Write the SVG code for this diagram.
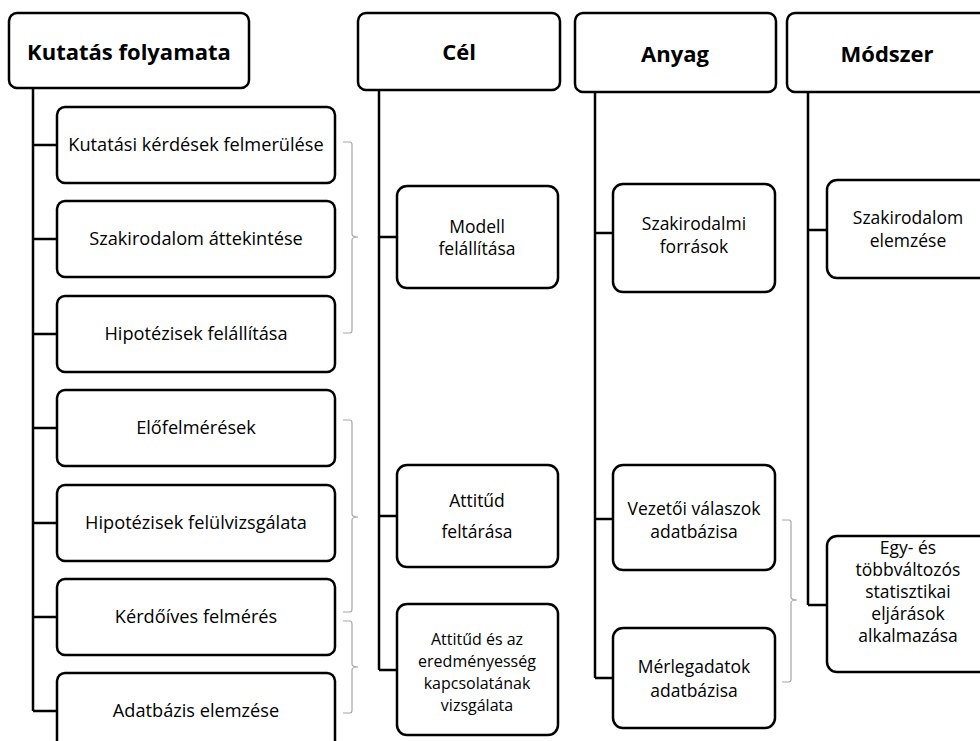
<svg xmlns="http://www.w3.org/2000/svg" width="980" height="741" viewBox="0 0 980 741">
<style>
.box{fill:#fff;stroke:#000;stroke-width:2.5}
.hd{font-family:"Open Sans",Lato,sans-serif;font-weight:bold;font-size:22px;text-anchor:middle;fill:#000}
.t{font-family:"Open Sans",Lato,sans-serif;font-size:17.5px;text-anchor:middle;fill:#000}
.ts{font-family:"Open Sans",Lato,sans-serif;font-size:16px;text-anchor:middle;fill:#000}
.tl{font-family:"Open Sans",Lato,sans-serif;font-size:18.2px;text-anchor:middle;fill:#000}
.ln{fill:none;stroke:#000;stroke-width:2.5}
.br{fill:none;stroke:#a6a6a6;stroke-width:1.2}
</style>
<rect width="980" height="741" fill="#fff"/>
<g id="connectors">
<path class="ln" d="M33,88V711M33,145H57M33,239H57M33,334H57M33,428H57M33,523H57M33,617H57M33,711H57"/>
<path class="ln" d="M379,90V670M379,237H397M379,516H397M379,670H397"/>
<path class="ln" d="M595,92V678M595,233H613M595,519H613M595,678H613"/>
<path class="ln" d="M808,92V605M808,230H827M808,605H827"/>
<path class="br" d="M343,142H350Q352,142 352,145V234Q352,237 358,237Q352,237 352,240V330Q352,333 350,333H343"/>
<path class="br" d="M343,420H350Q352,420 352,423V514Q352,517 358,517Q352,517 352,520V609Q352,612 350,612H343"/>
<path class="br" d="M343,621H350Q352,621 352,624V664Q352,667 358,667Q352,667 352,670V710Q352,713 350,713H343"/>
<path class="br" d="M782,520H789Q791,520 791,523V597Q791,600 797,600Q791,600 791,603V679Q791,682 789,682H782"/>
</g>
<g id="h-kutatas"><rect class="box" x="9" y="13" width="240" height="75" rx="8"/><text class="hd" x="129" y="60">Kutatás folyamata</text></g>
<g id="h-cel"><rect class="box" x="358" y="13" width="202" height="77" rx="8"/><text class="hd" x="459" y="60">Cél</text></g>
<g id="h-anyag"><rect class="box" x="575" y="13" width="201" height="79" rx="8"/><text class="hd" x="675" y="62">Anyag</text></g>
<g id="h-modszer"><rect class="box" x="787" y="13" width="205" height="79" rx="8"/><text class="hd" x="887" y="62">Módszer</text></g>

<g id="k1"><rect class="box" x="57" y="107" width="278" height="76" rx="8"/><text class="tl" x="196" y="151">Kutatási kérdések felmerülése</text></g>
<g id="k2"><rect class="box" x="57" y="201" width="278" height="76" rx="8"/><text class="tl" x="196" y="245">Szakirodalom áttekintése</text></g>
<g id="k3"><rect class="box" x="57" y="296" width="278" height="76" rx="8"/><text class="tl" x="196" y="340">Hipotézisek felállítása</text></g>
<g id="k4"><rect class="box" x="57" y="390" width="278" height="76" rx="8"/><text class="tl" x="196" y="434">Előfelmérések</text></g>
<g id="k5"><rect class="box" x="57" y="485" width="278" height="76" rx="8"/><text class="tl" x="196" y="529">Hipotézisek felülvizsgálata</text></g>
<g id="k6"><rect class="box" x="57" y="579" width="278" height="76" rx="8"/><text class="tl" x="196" y="623">Kérdőíves felmérés</text></g>
<g id="k7"><rect class="box" x="57" y="673" width="278" height="80" rx="8"/><text class="tl" x="196" y="717">Adatbázis elemzése</text></g>

<g id="c1"><rect class="box" x="397" y="186" width="161" height="102" rx="10"/><text class="t" x="477" y="233">Modell</text><text class="t" x="477" y="255">felállítása</text></g>
<g id="c2"><rect class="box" x="397" y="465" width="161" height="102" rx="10"/><text class="t" x="477" y="507">Attitűd</text><text class="t" x="477" y="538">feltárása</text></g>
<g id="c3"><rect class="box" x="397" y="604" width="161" height="131" rx="10"/><text class="ts" x="477" y="645">Attitűd és az</text><text class="ts" x="477" y="667">eredményesség</text><text class="ts" x="477" y="689">kapcsolatának</text><text class="ts" x="477" y="711">vizsgálata</text></g>

<g id="a1"><rect class="box" x="613" y="184" width="162" height="108" rx="10"/><text class="t" x="694" y="230">Szakirodalmi</text><text class="t" x="694" y="253">források</text></g>
<g id="a2"><rect class="box" x="613" y="465" width="162" height="105" rx="10"/><text class="t" x="694" y="515">Vezetői válaszok</text><text class="t" x="694" y="538">adatbázisa</text></g>
<g id="a3"><rect class="box" x="613" y="628" width="162" height="100" rx="10"/><text class="t" x="694" y="673">Mérlegadatok</text><text class="t" x="694" y="697">adatbázisa</text></g>

<g id="m1"><rect class="box" x="827" y="180" width="162" height="98" rx="10"/><text class="t" x="908" y="224">Szakirodalom</text><text class="t" x="908" y="247">elemzése</text></g>
<g id="m2"><rect class="box" x="827" y="536" width="162" height="136" rx="10"/><text class="t" x="908" y="554">Egy- és</text><text class="t" x="908" y="576">többváltozós</text><text class="t" x="908" y="598">statisztikai</text><text class="t" x="908" y="620">eljárások</text><text class="t" x="908" y="642">alkalmazása</text></g>
</svg>
